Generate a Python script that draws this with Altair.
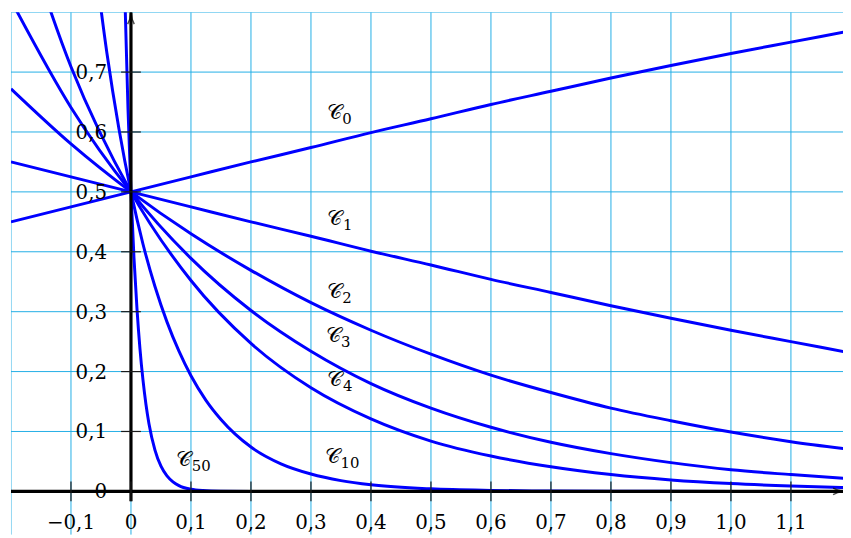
import altair as alt
import pandas as pd

# ---------------- data ----------------
x_base = [-0.2, -0.1, 0.0, 0.1, 0.2, 0.3, 0.4, 0.5, 0.6, 0.7, 0.8, 0.9, 1.0, 1.1, 1.2]
c0_y = [0.450, 0.475, 0.500, 0.525, 0.550, 0.574, 0.599, 0.622, 0.646, 0.668, 0.690, 0.711, 0.731, 0.750, 0.769]
c1_y = [0.550, 0.525, 0.500, 0.475, 0.450, 0.426, 0.401, 0.378, 0.354, 0.332, 0.310, 0.289, 0.269, 0.250, 0.231]
c2_y = [0.672, 0.580, 0.500, 0.430, 0.369, 0.315, 0.269, 0.229, 0.194, 0.165, 0.139, 0.118, 0.099, 0.083, 0.070]
c3_y = [0.820, 0.641, 0.500, 0.389, 0.302, 0.234, 0.180, 0.139, 0.107, 0.082, 0.063, 0.048, 0.036, 0.028, 0.021]
c4_y = [1.002, 0.709, 0.500, 0.352, 0.247, 0.173, 0.121, 0.084, 0.059, 0.041, 0.028, 0.019, 0.013, 0.009, 0.006]

c10_x = [-0.06, -0.04, -0.02, 0.0, 0.02, 0.04, 0.06, 0.08, 0.1, 0.125, 0.15, 0.2, 0.25, 0.3, 0.35,
         0.4, 0.5, 0.6, 0.7, 0.8, 0.9, 1.0, 1.1, 1.2]
c10_y = [0.884, 0.731, 0.605, 0.500, 0.413, 0.342, 0.283, 0.234, 0.193, 0.152, 0.120, 0.074, 0.046, 0.029, 0.018,
         0.011, 0.0042, 0.0016, 0.0006, 0.0002, 0.0001, 0.0, 0.0, 0.0]

c50_x = [-0.01, -0.005, 0.0, 0.005, 0.01, 0.015, 0.02, 0.025, 0.03, 0.04, 0.05, 0.06, 0.07, 0.08,
         0.1, 0.12, 0.15, 0.2, 0.4, 0.8, 1.2]
c50_y = [0.820, 0.640, 0.500, 0.390, 0.305, 0.238, 0.186, 0.145, 0.113, 0.069, 0.042, 0.026, 0.016, 0.0095,
         0.0035, 0.0013, 0.0003, 0.0, 0.0, 0.0, 0.0]

curve_names = ["0", "1", "2", "3", "4", "10", "50"]
label_x = [0.339, 0.340, 0.339, 0.337, 0.340, 0.336, 0.088]
label_y = [0.631, 0.454, 0.333, 0.260, 0.186, 0.058, 0.053]

grid_x = [-0.2, -0.1, 0.0, 0.1, 0.2, 0.3, 0.4, 0.5, 0.6, 0.7, 0.8, 0.9, 1.0, 1.1, 1.2]
grid_y = [-0.1, 0.0, 0.1, 0.2, 0.3, 0.4, 0.5, 0.6, 0.7, 0.8]

xtick_vals = [-0.1, 0.0, 0.1, 0.2, 0.3, 0.4, 0.5, 0.6, 0.7, 0.8, 0.9, 1.0, 1.1]
xtick_labels = ["−0,1", "0", "0,1", "0,2", "0,3", "0,4", "0,5", "0,6", "0,7", "0,8", "0,9", "1,0", "1,1"]
ytick_vals = [0.0, 0.1, 0.2, 0.3, 0.4, 0.5, 0.6, 0.7]
ytick_labels = ["0", "0,1", "0,2", "0,3", "0,4", "0,5", "0,6", "0,7"]

# ---------------- tables ----------------
rows = []
for name, ys in zip(["0", "1", "2", "3", "4"], [c0_y, c1_y, c2_y, c3_y, c4_y]):
    rows += [{"curve": name, "x": x, "y": y} for x, y in zip(x_base, ys)]
rows += [{"curve": "10", "x": x, "y": y} for x, y in zip(c10_x, c10_y)]
rows += [{"curve": "50", "x": x, "y": y} for x, y in zip(c50_x, c50_y)]
curves = pd.DataFrame(rows)

labels = pd.DataFrame({"name": curve_names, "x": label_x, "y": label_y})
gx = pd.DataFrame({"x": grid_x})
gy = pd.DataFrame({"y": grid_y})
xt = pd.DataFrame({"x": xtick_vals, "label": xtick_labels, "y": 0.0})
yt = pd.DataFrame({"y": ytick_vals, "label": ytick_labels, "x": 0.0})

XMIN, XMAX = -0.2, 1.18678
YMIN, YMAX = -0.0725, 0.8
xs = alt.Scale(domain=[XMIN, XMAX], nice=False, zero=False)
ys_ = alt.Scale(domain=[YMIN, YMAX], nice=False, zero=False)

GRID = "#22aee6"
BLUE = "#0000ff"
FONT = "DejaVu Serif"

vgrid = alt.Chart(gx).mark_rule(color=GRID, strokeWidth=1, clip=True).encode(
    x=alt.X("x:Q", scale=xs, axis=None))
hgrid = alt.Chart(gy).mark_rule(color=GRID, strokeWidth=1, clip=True).encode(
    y=alt.Y("y:Q", scale=ys_, axis=None))

lines = alt.Chart(curves).mark_line(color=BLUE, strokeWidth=3, interpolate="monotone", clip=True).encode(
    x=alt.X("x:Q", scale=xs, axis=None),
    y=alt.Y("y:Q", scale=ys_, axis=None),
    detail="curve:N",
)

axis_df = pd.DataFrame({"x": [XMIN], "x2": [1.19], "y": [0.0]})
xaxis = alt.Chart(axis_df).mark_rule(color="black", strokeWidth=3.2, clip=True).encode(
    x=alt.X("x:Q", scale=xs, axis=None), x2="x2:Q", y=alt.Y("y:Q", scale=ys_, axis=None))
yaxis_df = pd.DataFrame({"x": [0.0], "y": [-0.0166], "y2": [YMAX]})
yaxis = alt.Chart(yaxis_df).mark_rule(color="black", strokeWidth=3.2, clip=True).encode(
    x=alt.X("x:Q", scale=xs, axis=None), y=alt.Y("y:Q", scale=ys_, axis=None), y2="y2:Q")

xt_ticks = alt.Chart(xt).transform_calculate(y1="-0.0166", y2="0.0166").mark_rule(
    color="#1a1a1a", strokeWidth=1.2).encode(
    x=alt.X("x:Q", scale=xs, axis=None), y=alt.Y("y1:Q", scale=ys_, axis=None), y2="y2:Q")
yt_ticks = alt.Chart(yt[yt.y > 0]).transform_calculate(x1="-0.0165", x2="0.0165").mark_rule(
    color="#1a1a1a", strokeWidth=1.2).encode(
    y=alt.Y("y:Q", scale=ys_, axis=None), x=alt.X("x1:Q", scale=xs, axis=None), x2="x2:Q")

xt_text = alt.Chart(xt).mark_text(font=FONT, fontSize=20, color="black", align="center",
                                   baseline="alphabetic", dy=38).encode(
    x=alt.X("x:Q", scale=xs, axis=None), y=alt.Y("y:Q", scale=ys_, axis=None), text="label:N")
yt_text = alt.Chart(yt).mark_text(font=FONT, fontSize=20, color="black", align="right",
                                   baseline="alphabetic", dx=-24, dy=7).encode(
    x=alt.X("x:Q", scale=xs, axis=None), y=alt.Y("y:Q", scale=ys_, axis=None), text="label:N")

c_text = alt.Chart(labels).mark_text(font=FONT, fontSize=21, color="black", align="center",
                                      baseline="middle").encode(
    x=alt.X("x:Q", scale=xs, axis=None), y=alt.Y("y:Q", scale=ys_, axis=None), text=alt.value("𝒞"))
sub_text = alt.Chart(labels).mark_text(font=FONT, fontSize=15, color="black", align="left",
                                        baseline="middle", dx=8, dy=6).encode(
    x=alt.X("x:Q", scale=xs, axis=None), y=alt.Y("y:Q", scale=ys_, axis=None), text="name:N")

ARROW = "M -0.55 1 Q -0.1 0.2 0 -1 Q 0.1 0.2 0.55 1"
arrows_df = pd.DataFrame({"x": [0.0, 1.1802], "y": [0.790, 0.0], "ang": [0, 90]})
arrows = alt.Chart(arrows_df).mark_point(shape=ARROW, size=144, filled=False, color="black",
                                         strokeWidth=1.5).encode(
    x=alt.X("x:Q", scale=xs, axis=None), y=alt.Y("y:Q", scale=ys_, axis=None),
    angle=alt.Angle("ang:Q", scale=None))

chart = alt.layer(vgrid, hgrid, lines, xaxis, yaxis, xt_ticks, yt_ticks, arrows,
                  xt_text, yt_text, c_text, sub_text).properties(
    width=839, height=527,
    autosize=alt.AutoSizeParams(type="none"),
    padding={"left": 3, "top": 2, "right": 0, "bottom": 0},
    background="white",
).configure_view(stroke=None)

chart.save("out.html", embed_options={"renderer": "svg", "actions": False})
